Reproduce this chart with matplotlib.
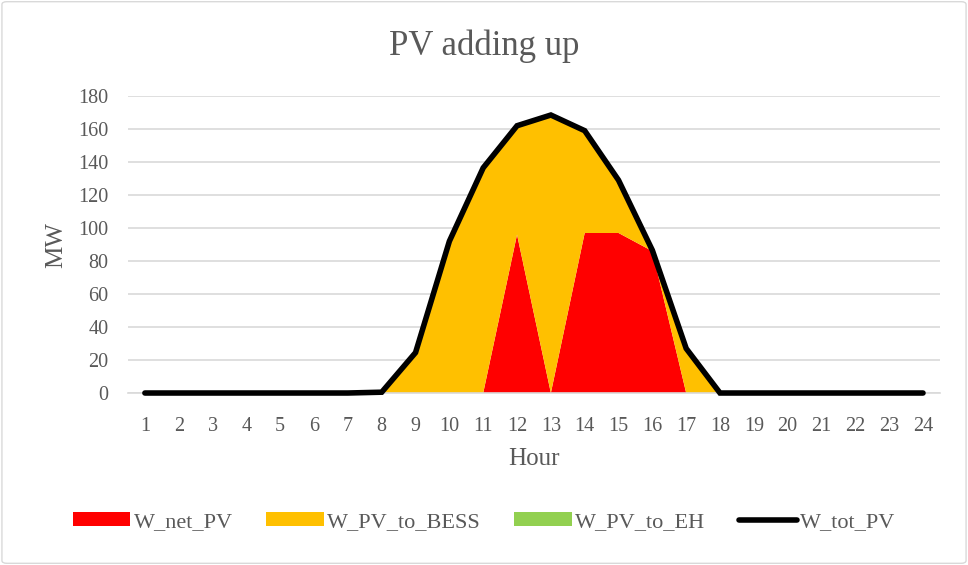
import numpy as np
import matplotlib
matplotlib.use('Agg')
import matplotlib.pyplot as plt
from matplotlib.patches import Patch, FancyBboxPatch
from matplotlib.lines import Line2D

# Data
hours = list(range(1, 25))
w_net_pv = [0, 0, 0, 0, 0, 0, 0, 0, 0, 0, 0, 96, 0, 97, 97, 86, 0, 0, 0, 0, 0, 0, 0, 0]
w_tot_pv = [0, 0, 0, 0, 0, 0, 0, 0.5, 24.5, 92, 136.5, 162, 168.5, 159, 129, 86.5, 27, 0, 0, 0, 0, 0, 0, 0]
w_pv_to_eh = [0] * 24
w_pv_to_bess = [t - n - e for t, n, e in zip(w_tot_pv, w_net_pv, w_pv_to_eh)]

series_labels = ['W_net_PV', 'W_PV_to_BESS', 'W_PV_to_EH', 'W_tot_PV']
colors = ['#FF0000', '#FFC000', '#92D050', '#000000']
gray = '#595959'

plt.rcParams['font.family'] = ['Liberation Serif', 'DejaVu Serif']

fig = plt.figure(figsize=(9.68, 5.65), dpi=100)
ax = fig.add_axes([0.1322, 0.3044, 0.8388, 0.5256])

ax.stackplot(hours, w_net_pv, w_pv_to_bess, w_pv_to_eh,
             colors=colors[:3], linewidth=0, zorder=2)
ax.plot(hours, w_tot_pv, color=colors[3], linewidth=4, solid_joinstyle='miter',
        solid_capstyle='round', clip_on=False, zorder=3)

ax.set_xlim(0.5, 24.5)
ax.set_ylim(0, 180)
ax.set_yticks(np.arange(0, 181, 20))
ax.set_xticks(hours)
ax.grid(axis='y', color='#D9D9D9', linewidth=1.2, zorder=0)
ax.set_axisbelow(True)
for s in ['top', 'right', 'left']:
    ax.spines[s].set_visible(False)
ax.spines['bottom'].set_color('#D9D9D9')
ax.spines['bottom'].set_linewidth(1.2)
ax.tick_params(axis='both', length=0, labelsize=14.5, labelcolor=gray)
ax.tick_params(axis='x', pad=17)
ax.tick_params(axis='y', pad=14)

ax.set_xlabel('Hour', fontsize=18, color=gray, labelpad=9)
ax.set_ylabel('MW', fontsize=18, color=gray, labelpad=8)
fig.text(0.5, 0.918, 'PV adding up', ha='center', va='center', fontsize=25, color=gray)

handles = [Patch(facecolor=c, edgecolor='none') for c in colors[:3]]
handles.append(Line2D([0], [0], color=colors[3], linewidth=4, solid_capstyle='round'))
fig.legend(handles, series_labels, loc='center', bbox_to_anchor=(0.5, 0.076), ncol=4,
           frameon=False, fontsize=16, labelcolor=gray, handlelength=2.6,
           handleheight=0.55, handletextpad=0.15, columnspacing=1.5)

# light rounded chart border
border = FancyBboxPatch((0.002, 0.003), 0.996, 0.994, boxstyle='round,pad=0,rounding_size=0.005',
                        transform=fig.transFigure, facecolor='none', edgecolor='#D9D9D9', linewidth=1)
fig.patches.append(border)

fig.savefig('out.png', dpi=100)
